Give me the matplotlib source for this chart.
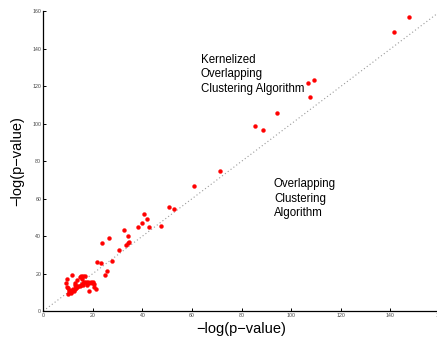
import matplotlib
matplotlib.use("Agg")
import matplotlib.pyplot as plt

plt.rcParams['font.family'] = ['Liberation Sans', 'DejaVu Sans']

# -log(p-value) scores: standard method (x) vs kernelized method (y)
overlap_scores = [
    147.3, 141.3, 109.3, 106.7, 107.5, 94.2, 85.4, 88.5, 71.2, 60.6,
    50.7, 52.8, 47.3, 40.6, 41.8, 39.9, 38.1, 42.6, 32.5, 34.2,
    34.6, 34.2, 33.2, 30.5, 26.4, 23.5, 27.6, 21.5, 23.4, 25.8,
    24.9,
    11.6, 9.7, 9.3, 9.5, 9.8, 10.4, 12.7, 13.4, 14.8, 15.2,
    15.7, 16.2, 17.0, 12.6, 9.9,
    10.3, 10.8, 11.2, 11.6, 12.1, 12.6, 13.1, 13.6, 14.1, 14.6,
    15.1, 15.6, 16.1, 16.6, 17.1, 17.6, 18.1, 18.6, 19.1, 19.6,
    20.2, 20.5, 20.6, 21.3, 18.5, 17.6, 16.2, 11.2, 12.2, 13.0,
]
kernel_scores = [
    157.3, 148.9, 123.2, 121.7, 114.4, 105.8, 98.8, 96.5, 74.7, 66.6,
    55.8, 54.3, 45.2, 51.6, 49.0, 46.8, 44.9, 44.7, 43.3, 40.2,
    36.8, 36.3, 35.4, 32.7, 39.0, 36.3, 26.6, 26.3, 25.4, 21.3,
    19.3,
    19.4, 17.2, 14.7, 13.0, 9.3, 11.1, 14.9, 16.6, 18.0, 18.9,
    17.2, 18.5, 18.7, 13.9, 12.4,
    10.2, 10.6, 10.0, 11.0, 11.5, 12.0, 12.1, 12.6, 13.1, 13.6,
    14.1, 14.6, 15.0, 15.5, 15.6, 15.1, 15.5, 15.0, 15.4, 15.0,
    15.5, 14.2, 12.6, 11.9, 10.9, 14.0, 14.1, 9.6, 10.6, 12.6,
]

axis_limit = [0, 160]
tick_values = [0, 20, 40, 60, 80, 100, 120, 140, 160]

fig = plt.figure(figsize=(4.37, 3.39), dpi=100)
ax = fig.add_axes([0.0991, 0.0826, 0.9078, 0.8835])

# reference diagonal y = x
ax.plot(axis_limit, axis_limit, linestyle=(0, (1, 2.2)), color='#9a9a9a', linewidth=0.8, zorder=1)
ax.plot(overlap_scores, kernel_scores, linestyle='none', marker='o', markersize=2.8,
        markerfacecolor='#ff0000', markeredgecolor='#ff0000', markeredgewidth=0.3, zorder=2)

ax.set_xlim(axis_limit)
ax.set_ylim(axis_limit)
ax.set_xticks(tick_values)
ax.set_yticks(tick_values)
ax.tick_params(direction='in', length=2.5, width=0.7, labelsize=3.8, colors='black',
               labelcolor='#444444', pad=1.5)
ax.spines['top'].set_visible(False)
ax.spines['right'].set_visible(False)
for side in ('left', 'bottom'):
    ax.spines[side].set_linewidth(0.9)

ax.set_xlabel('−log(p−value)', fontsize=10.5, labelpad=3)
ax.set_ylabel('−log(p−value)', fontsize=10.5, labelpad=6)

ax.text(63.5, 137.5, 'Kernelized\nOverlapping\nClustering Algorithm', fontsize=8.3,
        va='top', ha='left', linespacing=1.3)
ax.text(93.0, 71.0, 'Overlapping\nClustering\nAlgorithm', fontsize=8.3,
        va='top', ha='left', linespacing=1.3)

fig.savefig('out.png', dpi=100)
